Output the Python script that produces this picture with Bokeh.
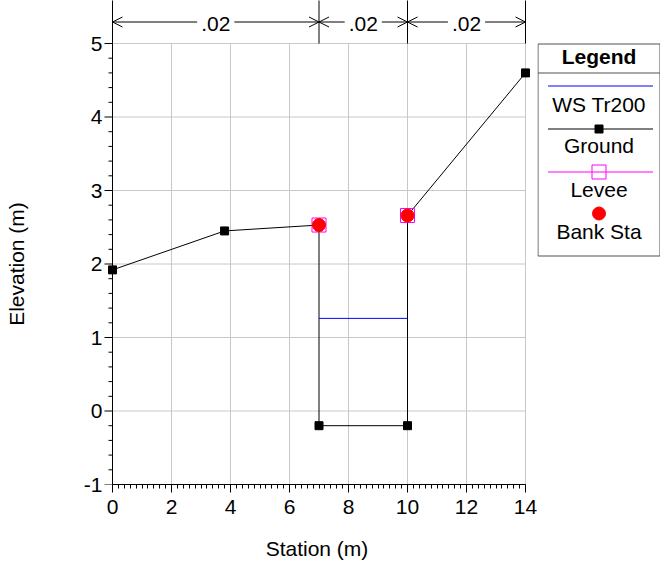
import math
from bokeh.plotting import figure
from bokeh.layouts import row
from bokeh.models import Range1d, FixedTicker, ColumnDataSource, Arrow, OpenHead
from bokeh.core.properties import value
from bokeh.embed import file_html
from bokeh.resources import INLINE

# ---------------- data ----------------
ground_sta = [0.0, 3.8, 7.0, 7.0, 10.0, 10.0, 14.0]
ground_elev = [1.92, 2.45, 2.53, -0.20, -0.20, 2.66, 4.60]
ws_sta = [7.0, 10.0]
ws_elev = [1.26, 1.26]
levee_sta = [7.0, 10.0]
levee_elev = [2.53, 2.66]
bank_sta = [7.0, 10.0]
bank_elev = [2.53, 2.66]
n_sta = [0.0, 7.0, 10.0, 14.0]
n_vals = [".02", ".02", ".02"]
x_ticks = [0, 2, 4, 6, 8, 10, 12, 14]
y_ticks = [-1, 0, 1, 2, 3, 4, 5]
x_title = "Station (m)"
y_title = "Elevation (m)"
legend_title = "Legend"
legend_labels = ["WS Tr200", "Ground", "Levee", "Bank Sta"]

FONT = "Liberation Sans"
FS = "21px"
GRID = "#c8c8c8"
PX_X = 29.5        # px per station unit
PX_Y = 73.5        # px per elevation unit
AXIS_X = 112       # page x of station 0
FRAME_L = 103      # page x of left edge of plot frame (room for y ticks)
AXIS_Y = 484       # page y of elevation -1 (bottom of frame)
FRAME_R = 530      # page x of right edge of plot frame
BOT = 81           # bottom border height
H = 565
YL_W = 40          # width of the y-title panel
MAIN_R = 537       # page x where legend panel starts
TICK_MAJ = 8
TICK_MIN = 4


def clean(fig):
    fig.outline_line_color = None
    fig.background_fill_color = "white"
    fig.border_fill_color = "white"
    fig.grid.visible = False
    return fig


# ---------------- y title panel ----------------
yl = figure(width=YL_W, height=H, output_backend="svg", toolbar_location=None,
            x_range=Range1d(0, YL_W), y_range=Range1d(AXIS_Y, 0),
            x_axis_location=None, y_axis_location=None,
            min_border_left=0, min_border_right=0, min_border_top=0, min_border_bottom=BOT)
clean(yl)
yl.text(x=[16], y=[(AXIS_Y + AXIS_Y - 6 * PX_Y) / 2], text=[y_title], angle=math.pi / 2,
        text_align="center", text_baseline="middle",
        text_font=value(FONT), text_font_size=value(FS), text_color="black")

# ---------------- main plot ----------------
y_top = y_ticks[0] + AXIS_Y / PX_Y
x_start = -(AXIS_X - FRAME_L) / PX_X
p = figure(width=MAIN_R - YL_W, height=H, output_backend="svg", toolbar_location=None,
           x_range=Range1d(x_start, (FRAME_R - AXIS_X) / PX_X), y_range=Range1d(y_ticks[0], y_top),
           min_border_left=FRAME_L - YL_W, min_border_right=MAIN_R - FRAME_R,
           min_border_top=0, min_border_bottom=BOT)
clean(p)

x_minor = [x_ticks[0] + 0.2 * i for i in range(int(round((x_ticks[-1] - x_ticks[0]) / 0.2)) + 1)]
y_minor = [y_ticks[0] + 0.2 * i for i in range(int(round((y_ticks[-1] - y_ticks[0]) / 0.2)) + 1)]
p.xaxis.ticker = FixedTicker(ticks=x_ticks, minor_ticks=x_minor)
p.yaxis.ticker = FixedTicker(ticks=y_ticks, minor_ticks=[])
p.xaxis.bounds = (x_ticks[0], x_ticks[-1])
p.yaxis.bounds = (y_ticks[0], y_ticks[-1])
p.yaxis.major_label_overrides = {t: str(t) for t in y_ticks}
for ax in (p.xaxis[0], p.yaxis[0]):
    ax.axis_line_color = "black"
    ax.axis_line_width = 1
    ax.major_tick_line_color = "black"
    ax.minor_tick_line_color = "black"
    ax.major_tick_out = TICK_MAJ
    ax.major_tick_in = 0
    ax.minor_tick_out = TICK_MIN
    ax.minor_tick_in = 0
    ax.major_label_text_font = FONT
    ax.major_label_text_font_size = FS
    ax.major_label_text_color = "black"
    ax.axis_label_text_font = FONT
    ax.axis_label_text_font_size = FS
    ax.axis_label_text_font_style = "normal"
    ax.axis_label_text_color = "black"
p.xaxis.major_label_standoff = 7
p.xaxis.axis_label = x_title
p.xaxis.axis_label_standoff = 20
# y axis: labels from Bokeh, rule and ticks drawn at station 0 inside the frame
p.yaxis.axis_line_color = None
p.yaxis.major_tick_line_color = None
p.yaxis.minor_tick_line_color = None
p.yaxis.major_tick_out = 0
p.yaxis.minor_tick_out = 0
p.yaxis.major_label_standoff = 1

# grid (only inside the station / elevation bounds)
p.segment(x0=x_ticks, y0=[y_ticks[0]] * len(x_ticks), x1=x_ticks, y1=[y_ticks[-1]] * len(x_ticks),
          line_color=GRID, line_width=1)
p.segment(x0=[x_ticks[0]] * len(y_ticks), y0=y_ticks, x1=[x_ticks[-1]] * len(y_ticks), y1=y_ticks,
          line_color=GRID, line_width=1)

# y axis rule and ticks at station 0
y_minor_only = [v for v in y_minor if all(abs(v - t) > 1e-9 for t in y_ticks)]
p.segment(x0=[x_ticks[0]], y0=[y_ticks[0]], x1=[x_ticks[0]], y1=[y_ticks[-1]],
          line_color="black", line_width=1)
p.segment(x0=[x_ticks[0]] * len(y_ticks), y0=y_ticks,
          x1=[x_ticks[0] - TICK_MAJ / PX_X] * len(y_ticks), y1=y_ticks,
          line_color="black", line_width=1)
p.segment(x0=[x_ticks[0]] * len(y_minor_only), y0=y_minor_only,
          x1=[x_ticks[0] - TICK_MIN / PX_X] * len(y_minor_only), y1=y_minor_only,
          line_color="black", line_width=1)

# Manning's n strip above the plot
ann_y = y_ticks[-1] + (AXIS_Y - 6 * PX_Y - 21.5) / PX_Y
txt_y = y_ticks[-1] + (AXIS_Y - 6 * PX_Y - 23.5) / PX_Y
mids = [(a + b) / 2 for a, b in zip(n_sta[:-1], n_sta[1:])]
p.segment(x0=n_sta, y0=[y_ticks[-1]] * len(n_sta), x1=n_sta, y1=[y_top + 1] * len(n_sta),
          line_color="black", line_width=1)
p.segment(x0=n_sta[:-1], y0=[ann_y] * len(mids), x1=n_sta[1:], y1=[ann_y] * len(mids),
          line_color="black", line_width=1)
p.text(x=mids, y=[txt_y] * len(mids), text=n_vals, text_align="center", text_baseline="middle",
       text_font=value(FONT), text_font_size=value(FS), text_color="black",
       background_fill_color="white", padding=4)
arr_src = ColumnDataSource(dict(xs=mids + mids, xe=n_sta[:-1] + n_sta[1:],
                                ys=[ann_y] * (2 * len(mids)), ye=[ann_y] * (2 * len(mids))))
p.add_layout(Arrow(end=OpenHead(size=10, line_width=1, line_color="black"),
                   x_start="xs", y_start="ys", x_end="xe", y_end="ye",
                   source=arr_src, line_alpha=0))

# data
p.line(ground_sta, ground_elev, line_color="black", line_width=1)
p.scatter(ground_sta, ground_elev, marker="square", size=8, color="black")
p.line(ws_sta, ws_elev, line_color="blue", line_width=1)
p.scatter(levee_sta, levee_elev, marker="square", size=14, fill_color=None,
          line_color="magenta", line_width=1)
p.scatter(bank_sta, bank_elev, marker="circle", size=13, color="red")

# ---------------- legend panel (page-pixel coordinates) ----------------
lg = figure(width=660 - MAIN_R, height=H, output_backend="svg", toolbar_location=None,
            x_range=Range1d(MAIN_R, 660), y_range=Range1d(AXIS_Y, 0),
            x_axis_location=None, y_axis_location=None,
            min_border_left=0, min_border_right=0, min_border_top=0, min_border_bottom=BOT)
clean(lg)
L, R, T, B = 537.5, 659.5, 43.5, 255.5
cx = (L + R) / 2
lg.quad(left=[L], right=[R], top=[T], bottom=[B], fill_color="white",
        line_color="#505050", line_width=1)
lg.segment(x0=[L], x1=[R], y0=[72.5], y1=[72.5], line_color="#505050", line_width=1)
lg.text(x=[cx], y=[56], text=[legend_title], text_align="center", text_baseline="middle",
        text_font=value(FONT), text_font_size=value(FS), text_font_style="bold",
        text_color="black")
sample_y = [85.5, 128.5, 171.5, 213]
label_y = [103.5, 145, 189, 230.5]
lg.segment(x0=[L + 10] * 3, x1=[R - 7] * 3, y0=sample_y[:3], y1=sample_y[:3],
           line_color=["blue", "black", "magenta"], line_width=1)
lg.scatter(x=[cx], y=[sample_y[1]], marker="square", size=8, color="black")
lg.scatter(x=[cx], y=[sample_y[2]], marker="square", size=14, fill_color=None,
           line_color="magenta", line_width=1)
lg.scatter(x=[cx], y=[sample_y[3]], marker="circle", size=13, color="red")
lg.text(x=[cx] * 4, y=label_y, text=legend_labels, text_align="center", text_baseline="middle",
        text_font=value(FONT), text_font_size=value(FS), text_color="black")

layout = row(yl, p, lg)
open("out.html", "w").write(file_html(layout, INLINE))
